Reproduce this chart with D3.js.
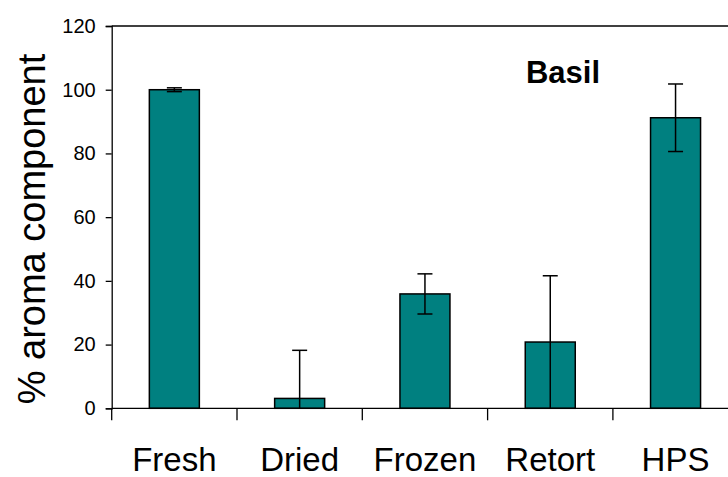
<!DOCTYPE html>
<html>
<head>
<meta charset="utf-8">
<script src="https://cdn.jsdelivr.net/npm/d3@7"></script>
<style>
  html, body { margin: 0; padding: 0; background: #fff; }
  svg { display: block; font-family: "Liberation Sans", Arial, sans-serif; }
</style>
</head>
<body>
<svg id="chart" width="728" height="477"></svg>
<script>
// Aroma retention of basil after different processing methods
const categories = ["Fresh", "Dried", "Frozen", "Retort", "HPS"];
const values     = [100, 3.1, 35.9, 20.8, 91.2];
const errors     = [0.6, 15.1, 6.3, 20.8, 10.6];
const yTicks     = [0, 20, 40, 60, 80, 100, 120];
const title      = "Basil";
const yLabel     = "% aroma component";

const svg = d3.select("#chart");
const plotLeft = 111.7, plotRight = 738.2, plotTop = 26, plotBottom = 408.3;

const x = d3.scaleBand().domain(categories).range([plotLeft, plotRight]).paddingInner(0).paddingOuter(0);
const y = d3.scaleLinear().domain([0, 120]).range([plotBottom, plotTop]);
const barW = 50;
const capHalf = 7.5;

// plot-area frame (top edge)
svg.append("line")
  .attr("x1", plotLeft).attr("x2", 728).attr("y1", y(120)).attr("y2", y(120))
  .attr("stroke", "#000").attr("stroke-width", 1.3);

// bars
svg.append("g").selectAll("rect").data(categories).join("rect")
  .attr("x", (d) => x(d) + x.bandwidth() / 2 - barW / 2)
  .attr("y", (d, i) => y(values[i]))
  .attr("width", barW)
  .attr("height", (d, i) => y(0) - y(values[i]))
  .attr("fill", "#008080")
  .attr("stroke", "#000")
  .attr("stroke-width", 1.5);

// error bars
const eb = svg.append("g").attr("stroke", "#000").attr("stroke-width", 1.5);
categories.forEach((c, i) => {
  const cx = x(c) + x.bandwidth() / 2;
  const hi = values[i] + errors[i];
  const lo = Math.max(0, values[i] - errors[i]);
  eb.append("line").attr("x1", cx).attr("x2", cx).attr("y1", y(hi)).attr("y2", y(lo));
  eb.append("line").attr("x1", cx - capHalf).attr("x2", cx + capHalf).attr("y1", y(hi)).attr("y2", y(hi));
  if (lo > 0) {
    eb.append("line").attr("x1", cx - capHalf).attr("x2", cx + capHalf).attr("y1", y(lo)).attr("y2", y(lo));
  }
});

// y axis
const yAxis = svg.append("g")
  .attr("transform", `translate(${plotLeft},0)`)
  .call(d3.axisLeft(y).tickValues(yTicks).tickSize(6).tickPadding(10).tickFormat(d3.format("d")));
yAxis.select(".domain").attr("stroke-width", 1.3);
yAxis.selectAll(".tick line").attr("stroke-width", 1.3);
yAxis.selectAll(".tick text").attr("font-size", 20).attr("fill", "#000")
  .attr("font-family", "'Liberation Sans', Arial, sans-serif");

// x axis: boundary ticks between categories
const xAxisG = svg.append("g");
xAxisG.append("line")
  .attr("x1", plotLeft).attr("x2", 728).attr("y1", plotBottom).attr("y2", plotBottom)
  .attr("stroke", "#000").attr("stroke-width", 1.3);
const bounds = categories.map((c) => x(c)).concat([x(categories[categories.length - 1]) + x.bandwidth()]);
xAxisG.selectAll("line.tk").data(bounds.filter((b) => b <= 728)).join("line")
  .attr("class", "tk")
  .attr("x1", (d) => d).attr("x2", (d) => d)
  .attr("y1", plotBottom).attr("y2", plotBottom + 12)
  .attr("stroke", "#000").attr("stroke-width", 1.3);
xAxisG.selectAll("text").data(categories).join("text")
  .attr("x", (d) => x(d) + x.bandwidth() / 2)
  .attr("y", 471)
  .attr("text-anchor", "middle")
  .attr("font-size", 33)
  .text((d) => d);

// chart title inside the plot
svg.append("text")
  .attr("x", 563).attr("y", 83)
  .attr("text-anchor", "middle")
  .attr("font-size", 31).attr("font-weight", "bold")
  .text(title);

// y axis label
svg.append("text")
  .attr("transform", "translate(45,229) rotate(-90)")
  .attr("text-anchor", "middle")
  .attr("font-size", 38)
  .text(yLabel);
</script>
</body>
</html>
